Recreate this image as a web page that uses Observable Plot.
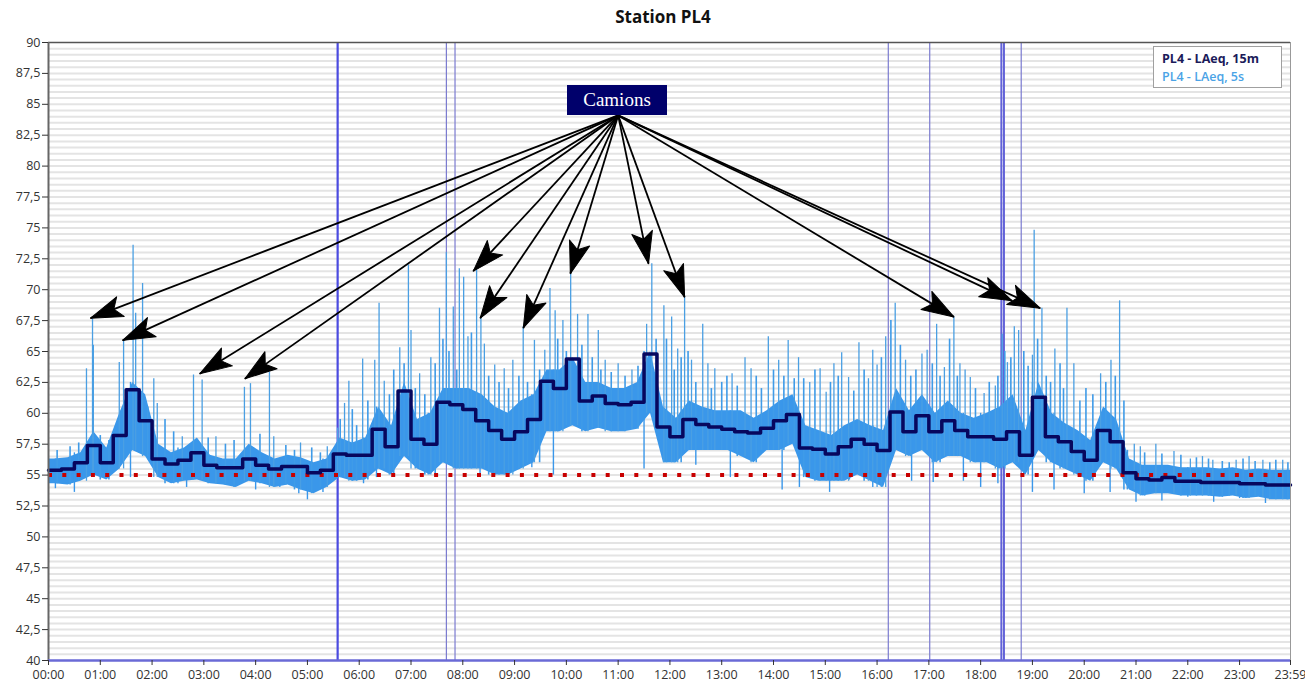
<!DOCTYPE html>
<html><head><meta charset="utf-8">
<script src="https://cdn.jsdelivr.net/npm/d3@7"></script>
<script src="https://cdn.jsdelivr.net/npm/@observablehq/plot@0.6"></script>
<style>
body{margin:0;background:#fff;}
#wrap{position:relative;width:1305px;height:689px;overflow:hidden;}
#title{position:absolute;left:0;top:5px;width:1326px;text-align:center;font:bold 17px "Open Sans",sans-serif;color:#111;}
#legend{position:absolute;left:1153px;top:46px;width:129px;height:42px;border:1px solid #a0a0a0;background:#fff;font:12.5px "Open Sans",sans-serif;padding:0;box-sizing:border-box;}
#legend div{position:absolute;left:8px;white-space:nowrap;}
#camions{position:absolute;left:567px;top:85px;width:100px;height:30px;background:#00006b;color:#fff;font:19px "Liberation Serif",serif;text-align:center;line-height:30px;}
</style></head>
<body><div id="wrap"><div id="chart"></div>
<div id="title">Station PL4</div>
<div id="legend"><div style="top:3px;font-weight:bold;color:#1b1b5a">PL4 - LAeq, 15m</div><div style="top:21px;color:#4aa3e6;font-weight:600">PL4 - LAeq, 5s</div></div>
<div id="camions">Camions</div>
</div>
<script>
// ---- data ----
// 15-minute LAeq (dB), one value per quarter hour from 00:00
const lev15 = [55.4,55.5,56.0,57.4,56.0,58.2,61.9,59.4,56.3,55.9,
  56.2,56.8,55.8,55.6,55.6,56.3,55.8,55.5,55.7,55.7,
  55.2,55.4,56.7,56.6,56.6,58.7,57.3,61.8,57.9,57.5,
  60.9,60.7,60.3,59.4,58.6,57.9,58.5,59.5,62.6,62.0,
  64.4,61.0,61.4,60.8,60.7,60.9,64.8,58.9,58.1,59.5,
  59.1,58.9,58.7,58.5,58.4,58.8,59.4,59.9,57.2,57.1,
  56.7,57.3,57.9,57.5,57.0,60.1,58.5,59.8,58.5,59.4,
  58.6,58.1,58.1,57.9,58.5,56.6,61.3,58.1,57.7,56.9,
  56.2,58.6,57.7,55.2,54.7,54.6,54.8,54.5,54.5,54.4,
  54.4,54.4,54.3,54.3,54.2,54.2];
// 5-second LAeq: low / high of the dense band in each quarter hour
const lo5s = [54.3,54.2,54.5,55.0,54.6,55.5,57.0,56.5,54.8,54.3,
  54.5,54.6,54.3,54.2,54.0,54.5,54.3,54.0,54.2,53.8,
  53.5,54.0,54.8,54.5,54.6,55.5,55.0,56.5,55.5,55.0,
  56.0,55.5,55.5,55.5,55.0,55.0,55.5,56.0,58.5,58.5,
  59.0,58.5,58.8,58.5,58.5,58.7,60.0,56.0,56.0,57.0,
  57.0,57.0,57.0,56.5,56.0,57.0,57.0,57.5,54.8,54.5,
  54.5,54.5,55.0,54.5,54.0,57.0,56.5,57.0,56.0,56.5,
  56.5,56.0,56.0,55.5,56.0,55.0,57.0,56.0,55.5,55.0,
  54.5,56.0,55.5,53.8,53.3,53.5,53.5,53.3,53.3,53.3,
  53.2,53.3,53.1,53.2,53.0,53.0];
const hi5s = [56.3,56.4,56.8,58.5,57.2,60.0,62.5,61.5,57.5,56.8,
  57.2,58.0,56.6,56.3,56.3,57.5,56.8,56.3,56.6,56.4,
  56.0,56.3,58.0,57.6,58.0,60.5,59.0,62.5,59.5,60.0,
  62.0,62.0,62.0,61.5,60.5,60.0,61.0,61.5,63.5,63.5,
  64.5,62.5,62.5,62.0,62.0,62.5,65.0,60.5,59.6,61.0,
  60.5,60.2,60.2,60.2,59.6,60.2,61.0,61.5,59.0,58.6,
  58.2,59.0,59.5,59.0,58.6,62.0,60.2,61.5,60.0,61.0,
  60.0,59.6,60.0,60.5,61.5,58.6,62.5,60.0,59.2,58.6,
  57.8,60.5,59.5,56.3,55.8,55.8,55.8,55.6,55.6,55.6,
  55.5,55.6,55.4,55.5,55.4,55.4];
// 5-second peaks (minutes after midnight, dB)
const spikeTime = [44,51,52,82,87,98,101,109,122,126,155,168,178,194,227,234,256,261,292,323,
  335,343,348,364,378,383,389,407,417,420,430,443,453,461,469,476,481,486,496,501,
  505,517,528,538,550,563,575,581,587,596,605,613,625,637,645,660,676,693,699,713,
  722,729,737,745,758,764,772,792,807,814,834,846,857,869,882,894,901,910,919,927,
  939,950,955,960,970,981,993,1012,1018,1029,1038,1049,1056,1062,1068,1084,1097,1105,1111,1119,
  1124,1140,1142,1151,1166,1180,1188,1219,1231,1241,1258,1265,1283,1304,1323,1337,1349,1376,1391,1407,1430];
const spikePeak = [63.6,67.6,65.5,64.1,65.9,73.6,68.1,70.5,62.8,60.8,58.1,63.1,62.7,58.1,62.1,62.4,63.3,58.1,57.6,57.3,
  58.8,60.8,62.6,64.4,64.3,68.9,62.6,65.3,72.0,66.7,63.2,64.5,68.5,73.0,68.6,71.7,71.0,66.2,71.6,67.7,
  65.6,63.9,63.6,64.3,67.0,65.9,65.1,70.1,68.3,67.5,71.3,68.0,68.0,66.7,64.3,64.0,63.5,67.2,72.1,68.7,
  67.8,65.2,69.4,64.3,67.2,64.0,63.6,63.2,64.5,63.6,66.2,64.3,65.9,64.5,62.5,63.6,61.7,64.0,64.9,62.9,
  65.7,62.8,65.1,63.9,66.2,68.9,64.3,64.8,65.1,67.2,63.7,67.8,64.0,63.5,62.9,61.6,62.2,66.4,64.1,67.0,
  66.7,64.7,74.8,68.5,65.2,68.5,64.0,63.2,64.3,69.1,57.5,57.3,57.5,56.9,56.3,56.5,56.2,56.2,56.5,56.2,56.2];
// smaller 5-second peaks
const minorTime = [10,25,35,60,70,115,135,145,185,205,215,245,275,285,305,315,
  338,352,357,370,395,400,412,425,436,448,457,464,473,490,510,522,533,545,555,569,590,600,618,630,640,652,668,683,704,716,
  725,733,741,750,768,780,786,798,820,826,840,852,864,875,888,906,915,933,945,965,976,987,999,1005,1024,1033,1044,1053,1074,1090,1100,1108,1115,1130,1135,1146,1156,1161,1172,1176,1195,1202,1210,1225,1236,1246,
  1250,1270,1290,1312,1330,1344,1360,1368,1384,1398,1415,1422,1436];
const minorPeak = [57.0,57.3,57.6,58.2,57.8,60.5,59.5,58.5,58.0,57.5,57.8,58.3,57.4,57.0,57.2,56.8,
  59.5,60.3,59.0,61.0,61.5,63.5,64.0,62.0,61.5,64.0,66.0,65.0,63.5,66.5,63.0,62.5,62.0,63.0,62.5,63.5,66.0,65.0,65.5,64.5,63.5,63.3,63.0,63.8,66.0,66.0,
  63.5,64.5,65.0,62.5,62.0,62.5,63.0,62.2,63.0,62.0,63.5,63.0,62.8,62.8,63.5,62.5,63.0,61.8,63.5,64.5,67.5,65.5,63.0,63.5,64.0,63.0,66.0,63.0,62.0,62.5,63.0,65.0,64.5,65.0,63.8,66.0,63.0,62.5,64.0,62.0,61.0,62.0,61.5,62.5,63.0,61.0,
  57.0,56.8,56.7,56.6,56.4,56.3,56.1,56.0,56.3,56.1,56.0,56.2,56.0];
// downward dips of the 5-second trace
const dipTime = [8,30,95,150,160,200,240,268,290,300,318,365,380,392,440,500,530,560,585,690,750,790,850,870,905,928,955,969,1000,1025,1060,1080,1100,1140,1165,1200,1230,1260,1290,1320,1350,1380,1410,1435];
const dipLevel = [53.9,53.6,54.8,54.3,54.0,54.4,53.8,54.0,53.5,53.0,53.6,54.3,54.8,55.3,55.0,54.8,55.2,55.6,55.0,55.5,55.8,54.8,53.8,54.0,53.6,54.6,54.0,54.5,54.5,54.4,54.5,54.0,54.3,53.6,53.8,53.5,53.6,52.8,52.9,53.2,52.8,53.1,52.7,53.0];
// event markers (minutes)
const eventTime = [335,461,471,973,1021,1104,1107,1127];
// threshold
const limitLevel = 55;
// "Camions" annotation: origin and arrow tips (minutes, dB)
const camionsTime = 660, camionsLevel = 84.1;
const arrowTime  = [48.7,85.9,175.2,227.5,492.1,500.2,550.1,604.6,695.2,737,1049,1116.5,1149];
const arrowLevel = [67.7,65.9,63.2,62.8,71.5,67.7,66.9,71.3,72.1,69.4,67.8,69.1,68.5];
// axes
const yTicks = d3.range(40, 90.01, 2.5);
const xTicks = [0,60,120,180,240,300,360,420,480,540,600,660,720,780,840,900,960,1020,1080,1140,1200,1260,1320,1380,1439];

// ---- tables ----
const idx = t => Math.min(95, Math.floor(t/15));
const steps = lev15.map((v,i)=>({t:i*15, v}));
steps.push({t:1439, v:lev15[lev15.length-1]});
const band = lo5s.map((lo,i)=>({t:i*15+7.5, lo, hi:hi5s[i]}));
band.unshift({t:0, lo:lo5s[0], hi:hi5s[0]});
band.push({t:1439, lo:lo5s[95], hi:hi5s[95]});
const spikes = spikeTime.map((t,i)=>({t, v:spikePeak[i], base:lo5s[idx(t)]}));
const minors = minorTime.map((t,i)=>({t, v:minorPeak[i], base:lo5s[idx(t)]}));
const dips = dipTime.map((t,i)=>({t, v:dipLevel[i], top:hi5s[idx(t)]}));
const arrows = arrowTime.map((t,i)=>({tx:t, ty:arrowLevel[i], ox:camionsTime, oy:camionsLevel}));
const fmt = m => String(Math.floor(m/60)).padStart(2,"0")+":"+String(m%60).padStart(2,"0");
const eventWidth = [2.2,1.2,1.2,1.2,1.2,2,2,1.2];
const eventColor = ["#4b4be0","#7b7bd0","#7b7bd0","#7b7bd0","#7b7bd0","#6262d8","#6262d8","#7b7bd0"];

const barb = {draw(ctx, l){ ctx.moveTo(0,-l); ctx.lineTo(-10.5,0); ctx.lineTo(0,-l*0.22); ctx.lineTo(10.5,0); ctx.closePath(); }};

function makePlot(rot){
  const marks = [
    Plot.ruleY(d3.range(40.5, 90, 0.5), {stroke:"#e4e4e4", strokeWidth:2}),
    Plot.ruleX(eventTime, {x:d=>d, stroke:(d,i)=>eventColor[i], strokeWidth:(d,i)=>eventWidth[i]}),
    Plot.areaY(band, {x:"t", y1:"lo", y2:"hi", fill:"#3a97ea"}),
    Plot.ruleX(dips, {x:"t", y1:"v", y2:"top", stroke:"#3a97ea", strokeWidth:1.4}),
    Plot.ruleX(minors, {x:"t", y1:"base", y2:"v", stroke:"#3f9be8", strokeWidth:1.6}),
    Plot.ruleX(spikes, {x:"t", y1:"base", y2:"v", stroke:"#4a9fe3", strokeWidth:1.3}),
    Plot.ruleY([limitLevel], {stroke:"#c80000", strokeWidth:4, strokeDasharray:"4,10.3"}),
    Plot.line(steps, {x:"t", y:"v", curve:"step-after", stroke:"#07075e", strokeWidth:3.5}),
    Plot.ruleY([90], {stroke:"#555", strokeWidth:1.5}),
    Plot.ruleX([1439], {stroke:"#999", strokeWidth:1}),
    Plot.ruleX([0], {stroke:"#666", strokeWidth:2}),
    Plot.ruleY([40], {stroke:"#6a6ad6", strokeWidth:2.5}),
    Plot.axisY({ticks:yTicks, tickFormat:d=>String(d).replace(".",","), tickSize:6, tickPadding:2, fontSize:12.5, color:"#333"}),
    Plot.axisX({ticks:xTicks, tickFormat:fmt, tickSize:5, tickPadding:5, fontSize:12.5, color:"#333"}),
    Plot.link(arrows, {x1:"ox", y1:"oy", x2:"tx", y2:"ty", stroke:"#000", strokeWidth:1.8})
  ];
  if (rot) marks.push(Plot.vector(arrows, {x:"tx", y:"ty", rotate:(d,i)=>rot[i], length:32, anchor:"end", shape:barb, fill:"#000", stroke:"#000", strokeWidth:1}));
  return Plot.plot({
    width:1305, height:689, marginLeft:48, marginRight:15, marginTop:42, marginBottom:29,
    x:{domain:[0,1439], label:null},
    y:{domain:[40,90], label:null},
    style:{fontFamily:"'Open Sans', sans-serif", fontSize:"12.5px", background:"#fff"},
    marks
  });
}
const p0 = makePlot(null);
const sx = p0.scale("x"), sy = p0.scale("y");
const rot = arrows.map(d=>{
  const dx = sx.apply(d.tx)-sx.apply(d.ox), dy = sy.apply(d.ty)-sy.apply(d.oy);
  return Math.atan2(dx,-dy)*180/Math.PI;
});
document.getElementById("chart").appendChild(makePlot(rot));
</script>
</body></html>
